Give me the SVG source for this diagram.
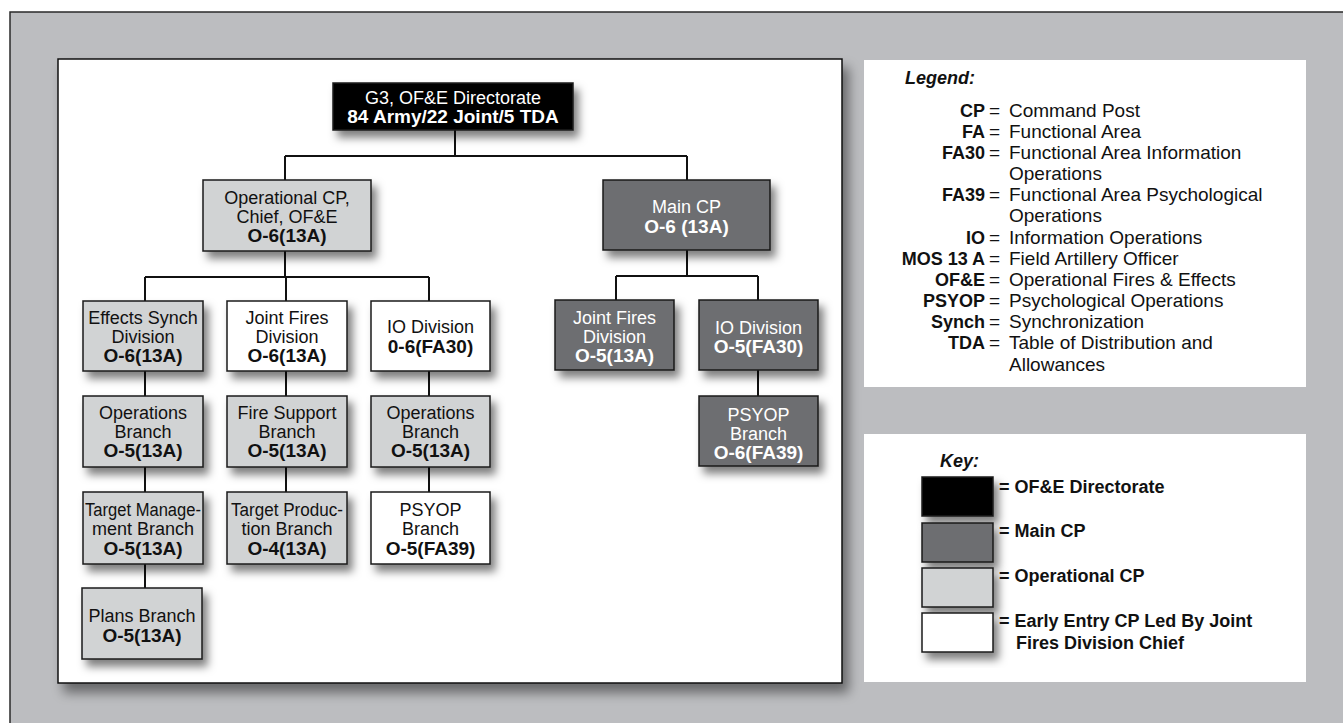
<svg xmlns="http://www.w3.org/2000/svg" width="1343" height="723" viewBox="0 0 1343 723">
<defs>
<filter id="sh" x="-20%" y="-20%" width="150%" height="160%">
<feDropShadow dx="5" dy="7" stdDeviation="4" flood-color="#000" flood-opacity="0.5"/>
</filter>
<filter id="shp" x="-5%" y="-5%" width="110%" height="115%">
<feDropShadow dx="6" dy="9" stdDeviation="6" flood-color="#000" flood-opacity="0.45"/>
</filter>
</defs>
<style>
text{font-family:"Liberation Sans",Arial,Helvetica,sans-serif;}
.box{stroke:#1a1a1a;stroke-width:1.5;filter:url(#sh);}
.blk{fill:#000;}
.drk{fill:#6d6e71;}
.lgt{fill:#d1d3d4;}
.wht{fill:#fff;}
.t{font-size:18px;text-anchor:middle;fill:#111;}
.b{font-size:19px;font-weight:bold;text-anchor:middle;fill:#111;}
.tw{fill:#fff;}
.conn{stroke:#111;stroke-width:2;fill:none;}
.ab{font-size:18px;font-weight:bold;text-anchor:end;fill:#111;}
.df{font-size:19px;fill:#111;}
.hd{font-size:18px;font-weight:bold;font-style:italic;fill:#111;}
.ky{font-size:18px;font-weight:bold;fill:#111;}
</style>
<rect x="10" y="12" width="1345" height="725" fill="#bcbdc0" stroke="#2a2a2a" stroke-width="1.5"/>
<rect id="panel" x="58" y="59" width="784" height="624" fill="#fff" stroke="#111" stroke-width="1.5" filter="url(#shp)"/>
<rect x="864" y="60" width="442" height="327" fill="#fff"/>
<rect x="864" y="434" width="442" height="248" fill="#fff"/>

<g id="connectors">
<path class="conn" d="M455 130V156M285 156H687M285 156V180M687 156V180"/>
<path class="conn" d="M285 251V277M145 277H429M145 277V301M286 277V301M429 277V301"/>
<path class="conn" d="M145 371V396M145 467V492M145 564V588"/>
<path class="conn" d="M286 371V396M286 467V492"/>
<path class="conn" d="M429 371V396M429 467V492"/>
<path class="conn" d="M687 250V276M616 276H758M616 276V300M758 276V300M758 370V396"/>
</g>

<g id="n-directorate">
<rect class="box blk" x="333" y="83" width="240" height="47"/>
<text class="t tw" x="453" y="104">G3, OF&amp;E Directorate</text>
<text class="b tw" x="453" y="123">84 Army/22 Joint/5 TDA</text>
</g>

<g id="n-opcp">
<rect class="box lgt" x="203" y="180" width="168" height="71"/>
<text class="t" x="287" y="204">Operational CP,</text>
<text class="t" x="287" y="223">Chief, OF&amp;E</text>
<text class="b" x="287" y="242">O-6(13A)</text>
</g>

<g id="n-maincp">
<rect class="box drk" x="603" y="180" width="167" height="70"/>
<text class="t tw" x="686.5" y="213">Main CP</text>
<text class="b tw" x="686.5" y="233">O-6 (13A)</text>
</g>

<g id="n-effects">
<rect class="box lgt" x="83" y="301" width="120" height="70"/>
<text class="t" x="143" y="324">Effects Synch</text>
<text class="t" x="143" y="343">Division</text>
<text class="b" x="143" y="362">O-6(13A)</text>
</g>

<g id="n-jf">
<rect class="box wht" x="227" y="301" width="120" height="70"/>
<text class="t" x="287" y="324">Joint Fires</text>
<text class="t" x="287" y="343">Division</text>
<text class="b" x="287" y="362">O-6(13A)</text>
</g>

<g id="n-io">
<rect class="box wht" x="371" y="301" width="119" height="70"/>
<text class="t" x="430.5" y="333">IO Division</text>
<text class="b" x="430.5" y="353">0-6(FA30)</text>
</g>

<g id="n-ops1">
<rect class="box lgt" x="83" y="396" width="120" height="71"/>
<text class="t" x="143" y="419">Operations</text>
<text class="t" x="143" y="438">Branch</text>
<text class="b" x="143" y="457">O-5(13A)</text>
</g>

<g id="n-fs">
<rect class="box lgt" x="227" y="396" width="120" height="71"/>
<text class="t" x="287" y="419">Fire Support</text>
<text class="t" x="287" y="438">Branch</text>
<text class="b" x="287" y="457">O-5(13A)</text>
</g>

<g id="n-ops2">
<rect class="box lgt" x="371" y="396" width="119" height="71"/>
<text class="t" x="430.5" y="419">Operations</text>
<text class="t" x="430.5" y="438">Branch</text>
<text class="b" x="430.5" y="457">O-5(13A)</text>
</g>

<g id="n-tm">
<rect class="box lgt" x="83" y="492" width="120" height="72"/>
<text class="t" x="143" y="516" textLength="116" lengthAdjust="spacingAndGlyphs">Target Manage-</text>
<text class="t" x="143" y="535">ment Branch</text>
<text class="b" x="143" y="555">O-5(13A)</text>
</g>

<g id="n-tp">
<rect class="box lgt" x="227" y="492" width="120" height="72"/>
<text class="t" x="287" y="516" textLength="112" lengthAdjust="spacingAndGlyphs">Target Produc-</text>
<text class="t" x="287" y="535">tion Branch</text>
<text class="b" x="287" y="555">O-4(13A)</text>
</g>

<g id="n-psyop1">
<rect class="box wht" x="371" y="492" width="119" height="72"/>
<text class="t" x="430.5" y="516">PSYOP</text>
<text class="t" x="430.5" y="535">Branch</text>
<text class="b" x="430.5" y="555">O-5(FA39)</text>
</g>

<g id="n-plans">
<rect class="box lgt" x="82" y="588" width="120" height="71"/>
<text class="t" x="142" y="622">Plans Branch</text>
<text class="b" x="142" y="642">O-5(13A)</text>
</g>

<g id="n-jfd">
<rect class="box drk" x="555" y="300" width="119" height="70"/>
<text class="t tw" x="614.5" y="324">Joint Fires</text>
<text class="t tw" x="614.5" y="343">Division</text>
<text class="b tw" x="614.5" y="362">O-5(13A)</text>
</g>

<g id="n-iod">
<rect class="box drk" x="699" y="300" width="119" height="70"/>
<text class="t tw" x="758.5" y="334">IO Division</text>
<text class="b tw" x="758.5" y="353">O-5(FA30)</text>
</g>

<g id="n-psyopd">
<rect class="box drk" x="699" y="396" width="119" height="70"/>
<text class="t tw" x="758.5" y="421">PSYOP</text>
<text class="t tw" x="758.5" y="440">Branch</text>
<text class="b tw" x="758.5" y="459">O-6(FA39)</text>
</g>

<g id="legend">
<text class="hd" x="905" y="84">Legend:</text>
<text class="ab" x="985" y="117">CP</text>
<text class="df" y="117"><tspan x="989">=</tspan><tspan x="1009">Command Post</tspan></text>
<text class="ab" x="985" y="138">FA</text>
<text class="df" y="138"><tspan x="989">=</tspan><tspan x="1009">Functional Area</tspan></text>
<text class="ab" x="985" y="159">FA30</text>
<text class="df" y="159"><tspan x="989">=</tspan><tspan x="1009">Functional Area Information</tspan></text>
<text class="df" x="1009" y="180">Operations</text>
<text class="ab" x="985" y="201">FA39</text>
<text class="df" y="201"><tspan x="989">=</tspan><tspan x="1009">Functional Area Psychological</tspan></text>
<text class="df" x="1009" y="222">Operations</text>
<text class="ab" x="985" y="244">IO</text>
<text class="df" y="244"><tspan x="989">=</tspan><tspan x="1009">Information Operations</tspan></text>
<text class="ab" x="985" y="265">MOS 13 A</text>
<text class="df" y="265"><tspan x="989">=</tspan><tspan x="1009">Field Artillery Officer</tspan></text>
<text class="ab" x="985" y="286">OF&amp;E</text>
<text class="df" y="286"><tspan x="989">=</tspan><tspan x="1009">Operational Fires &amp; Effects</tspan></text>
<text class="ab" x="985" y="307">PSYOP</text>
<text class="df" y="307"><tspan x="989">=</tspan><tspan x="1009">Psychological Operations</tspan></text>
<text class="ab" x="985" y="328">Synch</text>
<text class="df" y="328"><tspan x="989">=</tspan><tspan x="1009">Synchronization</tspan></text>
<text class="ab" x="985" y="349">TDA</text>
<text class="df" y="349"><tspan x="989">=</tspan><tspan x="1009">Table of Distribution and</tspan></text>
<text class="df" x="1009" y="371">Allowances</text>
</g>

<g id="key">
<text class="hd" x="940" y="467">Key:</text>
<rect class="box blk" x="922" y="477" width="71" height="39"/>
<rect class="box drk" x="922" y="523" width="71" height="39"/>
<rect class="box lgt" x="922" y="568" width="71" height="39"/>
<rect class="box wht" x="922" y="613" width="71" height="39"/>
<text class="ky" x="999" y="493">= OF&amp;E Directorate</text>
<text class="ky" x="999" y="537">= Main CP</text>
<text class="ky" x="999" y="582">= Operational CP</text>
<text class="ky" x="999" y="627">= Early Entry CP Led By Joint</text>
<text class="ky" x="1016" y="649">Fires Division Chief</text>
</g>
</svg>
